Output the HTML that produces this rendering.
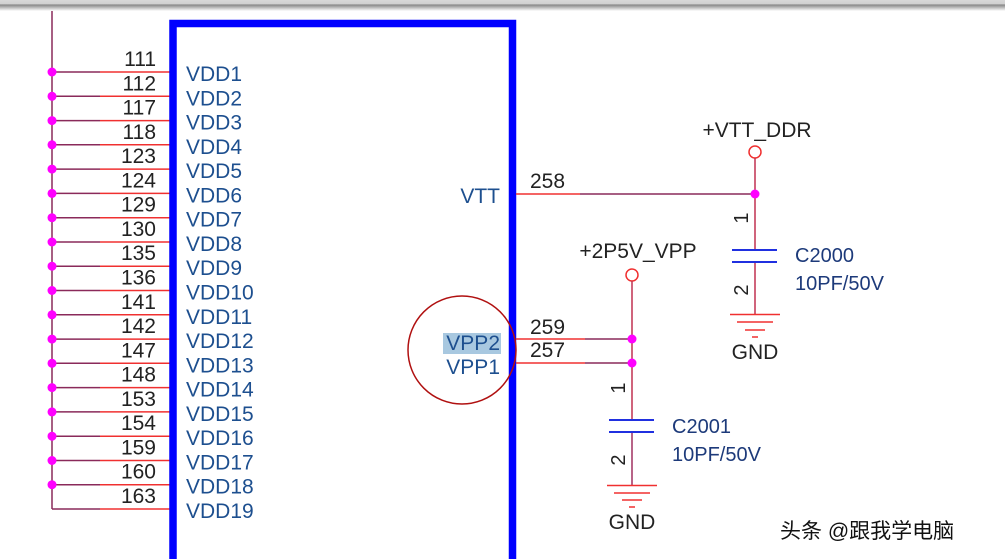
<!DOCTYPE html>
<html><head><meta charset="utf-8"><style>
html,body{margin:0;padding:0;background:#fff;}
svg{display:block;font-family:"Liberation Sans",Arial,sans-serif;}
</style></head><body>
<svg width="1005" height="559" viewBox="0 0 1005 559" xmlns="http://www.w3.org/2000/svg">
<defs><linearGradient id="g" x1="0" y1="0" x2="0" y2="1">
<stop offset="0" stop-color="#d8d8d8"/><stop offset="0.35" stop-color="#d0d0d0"/><stop offset="0.45" stop-color="#888"/><stop offset="1" stop-color="#fff"/></linearGradient></defs>
<text x="175" y="6" font-size="21" fill="#1d3a7a">CON2000B</text>
<circle cx="52" cy="-2" r="6" fill="none" stroke="#f03030" stroke-width="1.5"/>
<line x1="52" y1="4" x2="52" y2="509" stroke="#8a2a5a" stroke-width="1.5"/>
<g stroke-width="1.5">
<path d="M52 72H100M52 96.3H100M52 120.6H100M52 144.8H100M52 169.1H100M52 193.4H100M52 217.7H100M52 242H100M52 266.2H100M52 290.5H100M52 314.8H100M52 339.1H100M52 363.3H100M52 387.6H100M52 411.9H100M52 436.2H100M52 460.5H100M52 484.7H100M52 509H100" stroke="#8a2a5a"/>
<path d="M100 72H172M100 96.3H172M100 120.6H172M100 144.8H172M100 169.1H172M100 193.4H172M100 217.7H172M100 242H172M100 266.2H172M100 290.5H172M100 314.8H172M100 339.1H172M100 363.3H172M100 387.6H172M100 411.9H172M100 436.2H172M100 460.5H172M100 484.7H172M100 509H172" stroke="#f03030"/>
</g>
<g fill="#ff00ff">
<circle cx="52" cy="72" r="4.5"/><circle cx="52" cy="96.3" r="4.5"/><circle cx="52" cy="120.6" r="4.5"/><circle cx="52" cy="144.8" r="4.5"/><circle cx="52" cy="169.1" r="4.5"/><circle cx="52" cy="193.4" r="4.5"/><circle cx="52" cy="217.7" r="4.5"/><circle cx="52" cy="242" r="4.5"/><circle cx="52" cy="266.2" r="4.5"/><circle cx="52" cy="290.5" r="4.5"/><circle cx="52" cy="314.8" r="4.5"/><circle cx="52" cy="339.1" r="4.5"/><circle cx="52" cy="363.3" r="4.5"/><circle cx="52" cy="387.6" r="4.5"/><circle cx="52" cy="411.9" r="4.5"/><circle cx="52" cy="436.2" r="4.5"/><circle cx="52" cy="460.5" r="4.5"/><circle cx="52" cy="484.7" r="4.5"/>
</g>
<g font-size="21" fill="#222" text-anchor="end">
<text x="156" y="66">111</text><text x="156" y="90.3">112</text><text x="156" y="114.6">117</text><text x="156" y="138.8">118</text><text x="156" y="163.1">123</text><text x="156" y="187.4">124</text><text x="156" y="211.7">129</text><text x="156" y="236">130</text><text x="156" y="260.2">135</text><text x="156" y="284.5">136</text><text x="156" y="308.8">141</text><text x="156" y="333.1">142</text><text x="156" y="357.3">147</text><text x="156" y="381.6">148</text><text x="156" y="405.9">153</text><text x="156" y="430.2">154</text><text x="156" y="454.5">159</text><text x="156" y="478.7">160</text><text x="156" y="503">163</text>
</g>
<g font-size="21" fill="#1d4f8f">
<text x="186" y="81">VDD1</text><text x="186" y="105.3">VDD2</text><text x="186" y="129.6">VDD3</text><text x="186" y="153.8">VDD4</text><text x="186" y="178.1">VDD5</text><text x="186" y="202.4">VDD6</text><text x="186" y="226.7">VDD7</text><text x="186" y="251">VDD8</text><text x="186" y="275.2">VDD9</text><text x="186" y="299.5">VDD10</text><text x="186" y="323.8">VDD11</text><text x="186" y="348.1">VDD12</text><text x="186" y="372.3">VDD13</text><text x="186" y="396.6">VDD14</text><text x="186" y="420.9">VDD15</text><text x="186" y="445.2">VDD16</text><text x="186" y="469.5">VDD17</text><text x="186" y="493.7">VDD18</text><text x="186" y="518">VDD19</text>
</g>
<path d="M173 570V23.5H512.5V570" fill="none" stroke="#0000ff" stroke-width="7.5"/>
<text x="500" y="203" font-size="21" fill="#1d4f8f" text-anchor="end">VTT</text>
<line x1="516" y1="194" x2="580" y2="194" stroke="#f03030" stroke-width="1.5"/>
<line x1="580" y1="194" x2="755" y2="194" stroke="#8a2a5a" stroke-width="1.5"/>
<text x="530" y="188" font-size="21" fill="#222">258</text>
<text x="757" y="137" font-size="21" fill="#222" text-anchor="middle">+VTT_DDR</text>
<circle cx="755" cy="152" r="6" fill="none" stroke="#f03030" stroke-width="1.5"/>
<line x1="755" y1="158" x2="755" y2="250" stroke="#c03050" stroke-width="1.5"/>
<line x1="755" y1="262" x2="755" y2="314" stroke="#c03050" stroke-width="1.5"/>
<circle cx="755" cy="194" r="4.5" fill="#ff00ff"/>
<path d="M732 250H777M732 262H777" stroke="#2030e0" stroke-width="2"/>
<path d="M730 314.5H780M737 322H773M745 330H765M752 337H758" stroke="#f03030" stroke-width="1.5"/>
<text x="755" y="359" font-size="21" fill="#222" text-anchor="middle">GND</text>
<text transform="translate(748,218) rotate(-90)" font-size="20" fill="#222" text-anchor="middle">1</text>
<text transform="translate(748,290) rotate(-90)" font-size="20" fill="#222" text-anchor="middle">2</text>
<text x="795" y="262" font-size="20" fill="#1d3a7a">C2000</text>
<text x="795" y="290" font-size="20" fill="#1d3a7a">10PF/50V</text>
<rect x="443" y="333" width="58" height="21" fill="#a8c8e0"/>
<text x="500" y="350" font-size="21" fill="#1d4f8f" text-anchor="end">VPP2</text>
<text x="500" y="374" font-size="21" fill="#1d4f8f" text-anchor="end">VPP1</text>
<path d="M516 339H585M516 363H585" stroke="#f03030" stroke-width="1.5"/>
<path d="M585 339H632M585 363H632" stroke="#8a2a5a" stroke-width="1.5"/>
<text x="530" y="334" font-size="21" fill="#222">259</text>
<text x="530" y="357" font-size="21" fill="#222">257</text>
<text x="638" y="258" font-size="21" fill="#222" text-anchor="middle">+2P5V_VPP</text>
<circle cx="632" cy="275" r="6" fill="none" stroke="#f03030" stroke-width="1.5"/>
<line x1="632" y1="281" x2="632" y2="420" stroke="#c03050" stroke-width="1.5"/>
<line x1="632" y1="432" x2="632" y2="485" stroke="#a03060" stroke-width="1.5"/>
<circle cx="632" cy="339" r="4.5" fill="#ff00ff"/>
<circle cx="632" cy="363" r="4.5" fill="#ff00ff"/>
<path d="M609 420H654M609 432H654" stroke="#2030e0" stroke-width="2"/>
<path d="M607 485.5H657M614 493H650M622 500H642M629 507H635" stroke="#f03030" stroke-width="1.5"/>
<text x="632" y="529" font-size="21" fill="#222" text-anchor="middle">GND</text>
<text transform="translate(625,388) rotate(-90)" font-size="20" fill="#222" text-anchor="middle">1</text>
<text transform="translate(625,460) rotate(-90)" font-size="20" fill="#222" text-anchor="middle">2</text>
<text x="672" y="433" font-size="20" fill="#1d3a7a">C2001</text>
<text x="672" y="461" font-size="20" fill="#1d3a7a">10PF/50V</text>
<circle cx="462" cy="350" r="54" fill="none" stroke="#b01010" stroke-width="1.5"/>
<text x="780" y="538" font-size="21" fill="#111" stroke="#fff" stroke-width="3" paint-order="stroke" font-family="'Liberation Sans','Noto Sans CJK SC',sans-serif">头条 @跟我学电脑</text>
<rect x="0" y="0" width="1005" height="11" fill="url(#g)"/>
</svg>
</body></html>
